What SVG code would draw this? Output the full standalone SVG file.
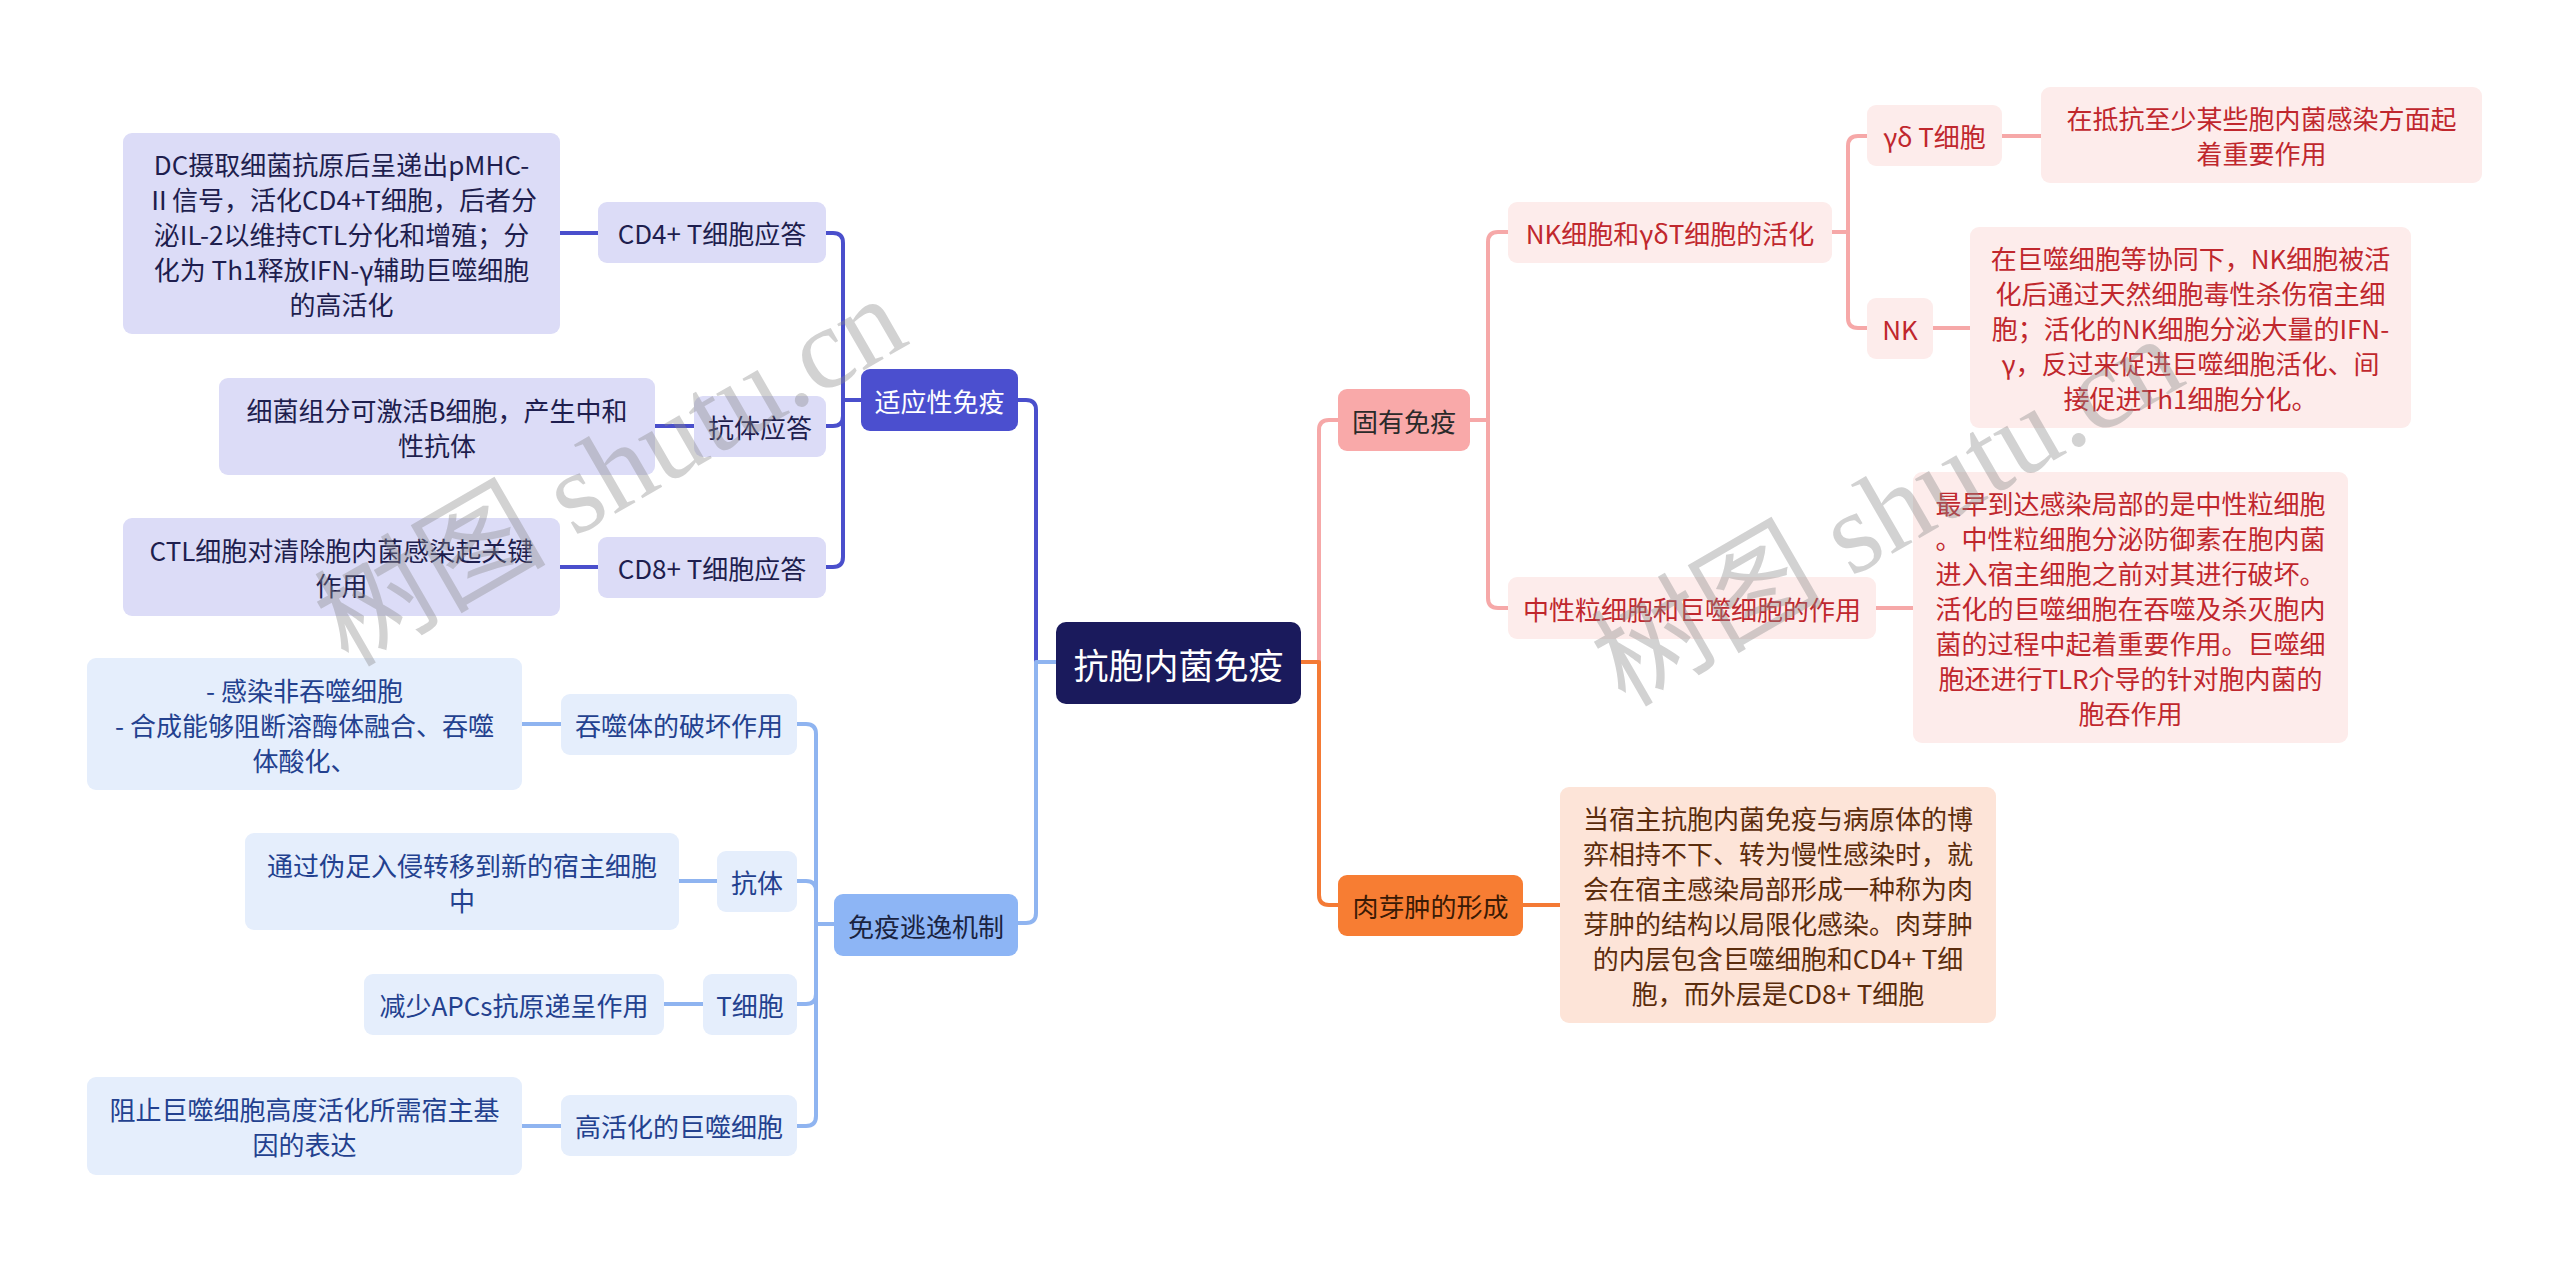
<svg xmlns="http://www.w3.org/2000/svg" width="2560" height="1262" viewBox="0 0 2560 1262">
<style>
text{font-family:"Noto Sans CJK SC","Noto Sans",sans-serif;font-size:26px;text-anchor:middle;dominant-baseline:central}
.c{fill:none;stroke-width:4;stroke-linecap:round;stroke-linejoin:round}
.root rect{fill:#1a1a5c}
.root text{fill:#fff;font-size:35px}
.adp rect{fill:#4b4fcf}
.adp text{fill:#fff}
.adp2 rect{fill:#dcdcf7}
.adp2 text{fill:#1e1e4e}
.esc rect{fill:#8db5f5}
.esc text{fill:#1a2340}
.esc2 rect{fill:#e5eefc}
.esc2 text{fill:#23418f}
.inn rect{fill:#f9a9a9}
.inn text{fill:#2a2a2a}
.inn2 rect{fill:#fdeceb}
.inn2 text{fill:#c0272d}
.gra rect{fill:#f77d33}
.gra text{fill:#3a1a05}
.gra2 rect{fill:#fde4d8}
.gra2 text{fill:#5b2c0c}
.wm{font-family:"Liberation Serif","Noto Sans CJK SC",serif;font-size:116px;fill:#8a8a8a;opacity:0.38;text-anchor:start;dominant-baseline:alphabetic}
</style>

<g id="connectors">
  <path class="c" stroke="#4a4fcc" d="M1056,662 H1036 V410 Q1036,400 1026,400 H1018"/>
  <path class="c" stroke="#8fb4f0" d="M1056,662 H1036 V913 Q1036,923 1026,923 H1018"/>
  <path class="c" stroke="#f6a8a8" d="M1301,662 H1319 V430 Q1319,420 1329,420 H1338"/>
  <path class="c" stroke="#f47a35" d="M1301,662 H1319 V895 Q1319,905 1329,905 H1338"/>

  <path class="c" stroke="#4a4fcc" d="M861,400 H843 V243 Q843,233 833,233 H826"/>
  <path class="c" stroke="#4a4fcc" d="M861,400 H843 V416 Q843,426 833,426 H826"/>
  <path class="c" stroke="#4a4fcc" d="M861,400 H843 V557 Q843,567 833,567 H826"/>
  <path class="c" stroke="#4a4fcc" d="M598,233 H560"/>
  <path class="c" stroke="#4a4fcc" d="M694,426 H655"/>
  <path class="c" stroke="#4a4fcc" d="M598,567 H560"/>

  <path class="c" stroke="#8fb4f0" d="M834,924 H816 V734 Q816,724 806,724 H797"/>
  <path class="c" stroke="#8fb4f0" d="M834,924 H816 V891 Q816,881 806,881 H797"/>
  <path class="c" stroke="#8fb4f0" d="M834,924 H816 V994 Q816,1004 806,1004 H797"/>
  <path class="c" stroke="#8fb4f0" d="M834,924 H816 V1116 Q816,1126 806,1126 H797"/>
  <path class="c" stroke="#8fb4f0" d="M561,724 H522"/>
  <path class="c" stroke="#8fb4f0" d="M717,881 H679"/>
  <path class="c" stroke="#8fb4f0" d="M703,1004 H664"/>
  <path class="c" stroke="#8fb4f0" d="M561,1126 H522"/>

  <path class="c" stroke="#f6a8a8" d="M1470,420 H1488 V242 Q1488,232 1498,232 H1508"/>
  <path class="c" stroke="#f6a8a8" d="M1470,420 H1488 V598 Q1488,608 1498,608 H1508"/>
  <path class="c" stroke="#f6a8a8" d="M1832,232 H1848 V146 Q1848,136 1858,136 H1867"/>
  <path class="c" stroke="#f6a8a8" d="M1832,232 H1848 V318 Q1848,328 1858,328 H1867"/>
  <path class="c" stroke="#f6a8a8" d="M2002,136 H2041"/>
  <path class="c" stroke="#f6a8a8" d="M1933,328 H1970"/>
  <path class="c" stroke="#f6a8a8" d="M1876,608 H1913"/>
  <path class="c" stroke="#f47a35" d="M1523,905 H1560"/>
</g>

<g id="root" class="root"><rect x="1056" y="622" width="245" height="82" rx="10"/><text x="1178.5" y="663">抗胞内菌免疫</text></g>

<g id="adaptive" class="adp"><rect x="861" y="369" width="157" height="62" rx="9"/><text x="939.5" y="400">适应性免疫</text></g>
<g id="cd4" class="adp2"><rect x="598" y="202" width="228" height="61" rx="9"/><text x="712" y="232.5">CD4+ T细胞应答</text></g>
<g id="cd4-leaf" class="adp2"><rect x="123" y="133" width="437" height="201" rx="9"/>
<text x="341.5" y="163.5">DC摄取细菌抗原后呈递出pMHC-</text>
<text x="341.5" y="198.5">Ⅱ信号，活化CD4+T细胞，后者分</text>
<text x="341.5" y="233.5">泌IL-2以维持CTL分化和增殖；分</text>
<text x="341.5" y="268.5">化为 Th1释放IFN-γ辅助巨噬细胞</text>
<text x="341.5" y="303.5">的高活化</text></g>
<g id="ab" class="adp2"><rect x="694" y="396" width="132" height="61" rx="9"/><text x="760" y="426.5">抗体应答</text></g>
<g id="ab-leaf" class="adp2"><rect x="219" y="378" width="436" height="97" rx="9"/>
<text x="437" y="409">细菌组分可激活B细胞，产生中和</text>
<text x="437" y="444">性抗体</text></g>
<g id="cd8" class="adp2"><rect x="598" y="537" width="228" height="61" rx="9"/><text x="712" y="567.5">CD8+ T细胞应答</text></g>
<g id="cd8-leaf" class="adp2"><rect x="123" y="518" width="437" height="98" rx="9"/>
<text x="341.5" y="549.5">CTL细胞对清除胞内菌感染起关键</text>
<text x="341.5" y="584.5">作用</text></g>

<g id="escape" class="esc"><rect x="834" y="894" width="184" height="62" rx="9"/><text x="926" y="925">免疫逃逸机制</text></g>
<g id="phago" class="esc2"><rect x="561" y="694" width="236" height="61" rx="9"/><text x="679" y="724.5">吞噬体的破坏作用</text></g>
<g id="phago-leaf" class="esc2"><rect x="87" y="658" width="435" height="132" rx="9"/>
<text x="304.5" y="689">- 感染非吞噬细胞</text>
<text x="304.5" y="724">- 合成能够阻断溶酶体融合、吞噬</text>
<text x="304.5" y="759">体酸化、</text></g>
<g id="antibody" class="esc2"><rect x="717" y="851" width="80" height="61" rx="9"/><text x="757" y="881.5">抗体</text></g>
<g id="antibody-leaf" class="esc2"><rect x="245" y="833" width="434" height="97" rx="9"/>
<text x="462" y="864">通过伪足入侵转移到新的宿主细胞</text>
<text x="462" y="899">中</text></g>
<g id="tcell" class="esc2"><rect x="703" y="974" width="94" height="61" rx="9"/><text x="750" y="1004.5">T细胞</text></g>
<g id="tcell-leaf" class="esc2"><rect x="364" y="974" width="300" height="61" rx="9"/><text x="514" y="1004.5">减少APCs抗原递呈作用</text></g>
<g id="macro" class="esc2"><rect x="561" y="1095" width="236" height="61" rx="9"/><text x="679" y="1125.5">高活化的巨噬细胞</text></g>
<g id="macro-leaf" class="esc2"><rect x="87" y="1077" width="435" height="98" rx="9"/>
<text x="304.5" y="1108.5">阻止巨噬细胞高度活化所需宿主基</text>
<text x="304.5" y="1143.5">因的表达</text></g>

<g id="innate" class="inn"><rect x="1338" y="389" width="132" height="62" rx="9"/><text x="1404" y="420">固有免疫</text></g>
<g id="nk-act" class="inn2"><rect x="1508" y="202" width="324" height="61" rx="9"/><text x="1670" y="232.5">NK细胞和γδT细胞的活化</text></g>
<g id="gd" class="inn2"><rect x="1867" y="105" width="135" height="61" rx="9"/><text x="1934.5" y="135.5">γδ T细胞</text></g>
<g id="gd-leaf" class="inn2"><rect x="2041" y="87" width="441" height="96" rx="9"/>
<text x="2261.5" y="117.5">在抵抗至少某些胞内菌感染方面起</text>
<text x="2261.5" y="152.5">着重要作用</text></g>
<g id="nk" class="inn2"><rect x="1867" y="298" width="66" height="61" rx="9"/><text x="1900" y="328.5">NK</text></g>
<g id="nk-leaf" class="inn2"><rect x="1970" y="227" width="441" height="201" rx="9"/>
<text x="2190.5" y="257.5">在巨噬细胞等协同下，NK细胞被活</text>
<text x="2190.5" y="292.5">化后通过天然细胞毒性杀伤宿主细</text>
<text x="2190.5" y="327.5">胞；活化的NK细胞分泌大量的IFN-</text>
<text x="2190.5" y="362.5">γ，反过来促进巨噬细胞活化、间</text>
<text x="2190.5" y="397.5">接促进Th1细胞分化。</text></g>
<g id="neutro" class="inn2"><rect x="1508" y="577" width="368" height="62" rx="9"/><text x="1692" y="608">中性粒细胞和巨噬细胞的作用</text></g>
<g id="neutro-leaf" class="inn2"><rect x="1913" y="472" width="435" height="271" rx="9"/>
<text x="2130.5" y="502.5">最早到达感染局部的是中性粒细胞</text>
<text x="2130.5" y="537.5">。中性粒细胞分泌防御素在胞内菌</text>
<text x="2130.5" y="572.5">进入宿主细胞之前对其进行破坏。</text>
<text x="2130.5" y="607.5">活化的巨噬细胞在吞噬及杀灭胞内</text>
<text x="2130.5" y="642.5">菌的过程中起着重要作用。巨噬细</text>
<text x="2130.5" y="677.5">胞还进行TLR介导的针对胞内菌的</text>
<text x="2130.5" y="712.5">胞吞作用</text></g>

<g id="granuloma" class="gra"><rect x="1338" y="875" width="185" height="61" rx="9"/><text x="1430.5" y="905.5">肉芽肿的形成</text></g>
<g id="granuloma-leaf" class="gra2"><rect x="1560" y="787" width="436" height="236" rx="9"/>
<text x="1778" y="817.5">当宿主抗胞内菌免疫与病原体的博</text>
<text x="1778" y="852.5">弈相持不下、转为慢性感染时，就</text>
<text x="1778" y="887.5">会在宿主感染局部形成一种称为肉</text>
<text x="1778" y="922.5">芽肿的结构以局限化感染。肉芽肿</text>
<text x="1778" y="957.5">的内层包含巨噬细胞和CD4+ T细</text>
<text x="1778" y="992.5">胞，而外层是CD8+ T细胞</text></g>

<text class="wm" transform="translate(348,668) rotate(-30)">树图 shutu.cn</text>
<text class="wm" transform="translate(1625,708) rotate(-30)">树图 shutu.cn</text>
</svg>
